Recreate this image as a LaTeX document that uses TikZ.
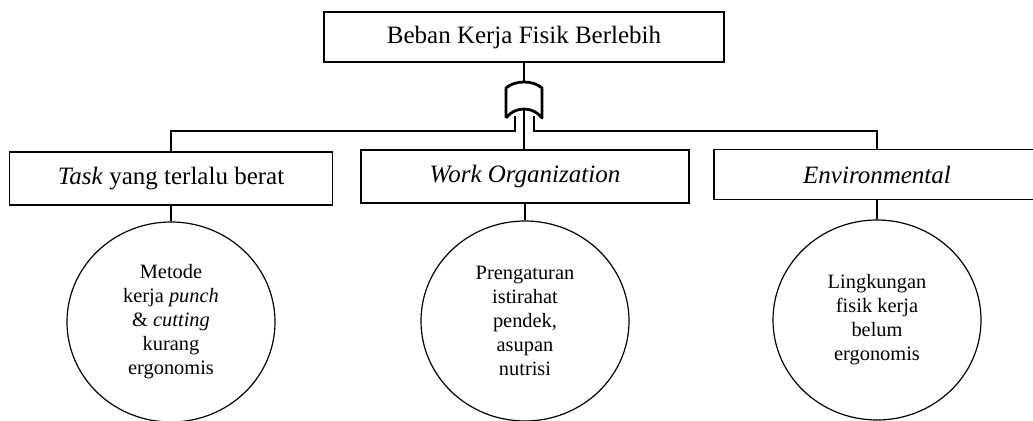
\documentclass[tikz,border=0pt]{standalone}
\usepackage{fontspec}
\setmainfont{Liberation Serif}
\usetikzlibrary{shapes.geometric}
\begin{document}
\begin{tikzpicture}[x=0.5pt,y=-0.5pt,line width=0.6pt,
    eventbox/.style={draw,rectangle,inner sep=0pt,minimum height=25pt,
      font=\fontsize{12.5}{15}\selectfont},
    causebox/.style={draw,ellipse,inner sep=0pt,minimum width=104pt,
      minimum height=100pt,align=center,font=\fontsize{10.2}{12}\selectfont},
    gate/.style={line width=1.4pt,line join=round}]
  \clip (0,0) rectangle (1033,421);
  % top event
  \node[eventbox,minimum width=200pt] (top) at (524,37) {Beban Kerja Fisik Berlebih};
  % or gate
  \draw[gate] (506,118) -- (506,88) .. controls (515,80) and (533,80) .. (542,88)
    -- (542,118) .. controls (533,106) and (515,106) .. (506,118);
  \coordinate (gtop) at (524,82);
  \coordinate (gl) at (515,116);
  \coordinate (gc) at (524,108);
  \coordinate (gr) at (534,116);
  \coordinate (bus) at (0,131);
  % intermediate events
  \node[eventbox,minimum width=161.5pt,minimum height=26.5pt] (task) at (171,178.5)
    {\textit{Task} yang terlalu berat};
  \node[eventbox,minimum width=164pt,minimum height=26.5pt] (work) at (525,176.5)
    {\textit{Work Organization}};
  \node[eventbox,minimum width=163pt] (env) at (877,174.5)
    {\textit{Environmental}};
  % basic causes
  \node[causebox] (c1) at (171,322)
    {Metode\\kerja \textit{punch}\\\& \textit{cutting}\\kurang\\ergonomis};
  \node[causebox] (c2) at (525,321)
    {Prengaturan\\istirahat\\pendek,\\asupan\\nutrisi};
  \node[causebox] (c3) at (877,320)
    {Lingkungan\\fisik kerja\\belum\\ergonomis};
  \begin{scope}[-]
    \draw (top.south -| gtop) -- (gtop);
    \draw (gl) -- (gl |- bus) -| (task.north);
    \draw (gc) -- (gc |- work.north);
    \draw (gr) -- (gr |- bus) -| (env.north);
    \draw (task) -- (c1);
    \draw (work) -- (c2);
    \draw (env) -- (c3);
  \end{scope}
\end{tikzpicture}
\end{document}
